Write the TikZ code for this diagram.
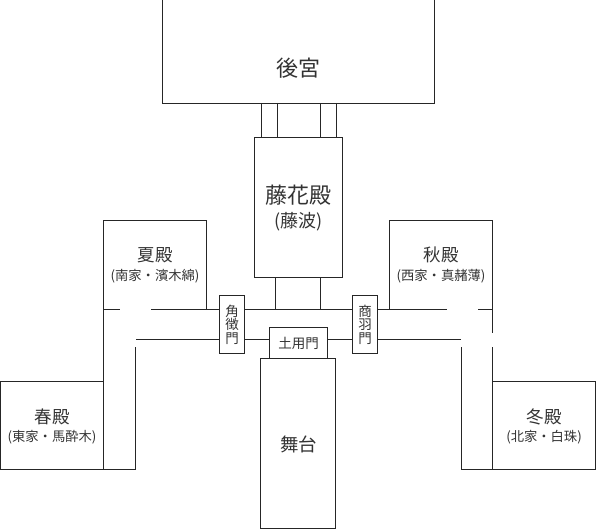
\documentclass[tikz,border=0pt]{standalone}
\usepackage{fontspec}
\setmainfont{Noto Sans CJK JP}
\tikzset{
  wall/.style={draw=black!85,line width=1pt},
  big/.style={font=\fontsize{22}{24}\selectfont,text=black!80,inner sep=0pt},
  mid/.style={font=\fontsize{17.5}{20}\selectfont,text=black!80,inner sep=0pt},
  small/.style={font=\fontsize{13.3}{15}\selectfont,text=black!80,inner sep=0pt},
  gate/.style={font=\fontsize{13.5}{13.5}\selectfont,text=black!80,inner sep=0pt,align=center,draw=black!85,line width=1pt,fill=white}
}
\begin{document}
\begin{tikzpicture}[x=1pt,y=-1pt]
\useasboundingbox (0,0) rectangle (596,529);
% passages
\draw[wall] (261,103)--(261,137) (277,103)--(277,137) (320,103)--(320,137) (336,103)--(336,137);
\draw[wall] (275.5,277)--(275.5,309) (320.5,277)--(320.5,309);
% corridors
\draw[wall] (103.5,309)--(120,309) (151,309)--(219.5,309) (244.5,309)--(352.5,309) (377.5,309)--(447,309) (478,309)--(492.5,309);
\draw[wall] (136,339)--(219.5,339) (244.5,339)--(269.5,339) (327.5,339)--(352.5,339) (377.5,339)--(460.5,339);
% halls
\draw[wall] (162.8,-2)--(162.8,103.5)--(434.5,103.5)--(434.5,-2);
\draw[wall] (254.5,137.5) rectangle (342.5,277.5);
\draw[wall] (103.5,381)--(103.5,220.5)--(206.5,220.5)--(206.5,309);
\draw[wall] (389.5,309)--(389.5,220.5)--(492.5,220.5)--(492.5,333);
\draw[wall] (0,381)--(103.5,381) (0.5,381)--(0.5,469.5)--(135.5,469.5)--(135.5,347) (103.5,381)--(103.5,469.5);
\draw[wall] (461.5,347)--(461.5,469.5)--(595.5,469.5)--(595.5,381)--(492.5,381) (492.5,347)--(492.5,469.5);
\draw[wall] (260.5,358.5) rectangle (335.5,528.5);
% gates
\node[gate,minimum width=25pt,minimum height=58.5pt] (g1) at (232,324.5) {角\\徴\\門};
\node[gate,minimum width=25pt,minimum height=58.5pt] (g2) at (365,324.5) {商\\羽\\門};
\node[gate,minimum width=58pt,minimum height=31pt] (g3) at (298.5,343) {土用門};
% labels
\node[big] (a) at (298.5,68.5) {後宮};
\node[big] (b) at (298.5,195.5) {藤花殿};
\node[font=\fontsize{18}{20}\selectfont,text=black!80,inner sep=0pt] (b2) at (298.5,222) {(藤波)};
\node[mid] (c) at (155,255) {夏殿};
\node[small] (c2) at (155,276.5) {(南家・濱木綿)};
\node[mid] (d) at (441,255) {秋殿};
\node[small] (d2) at (441,276.5) {(西家・真赭薄)};
\node[mid] (e) at (52,416.5) {春殿};
\node[small] (e2) at (52,437.5) {(東家・馬酔木)};
\node[mid] (f) at (544,416.5) {冬殿};
\node[small] (f2) at (544,437.5) {(北家・白珠)};
\node[font=\fontsize{18.5}{20}\selectfont,text=black!80,inner sep=0pt] (h) at (298.5,444) {舞台};
\end{tikzpicture}
\end{document}
